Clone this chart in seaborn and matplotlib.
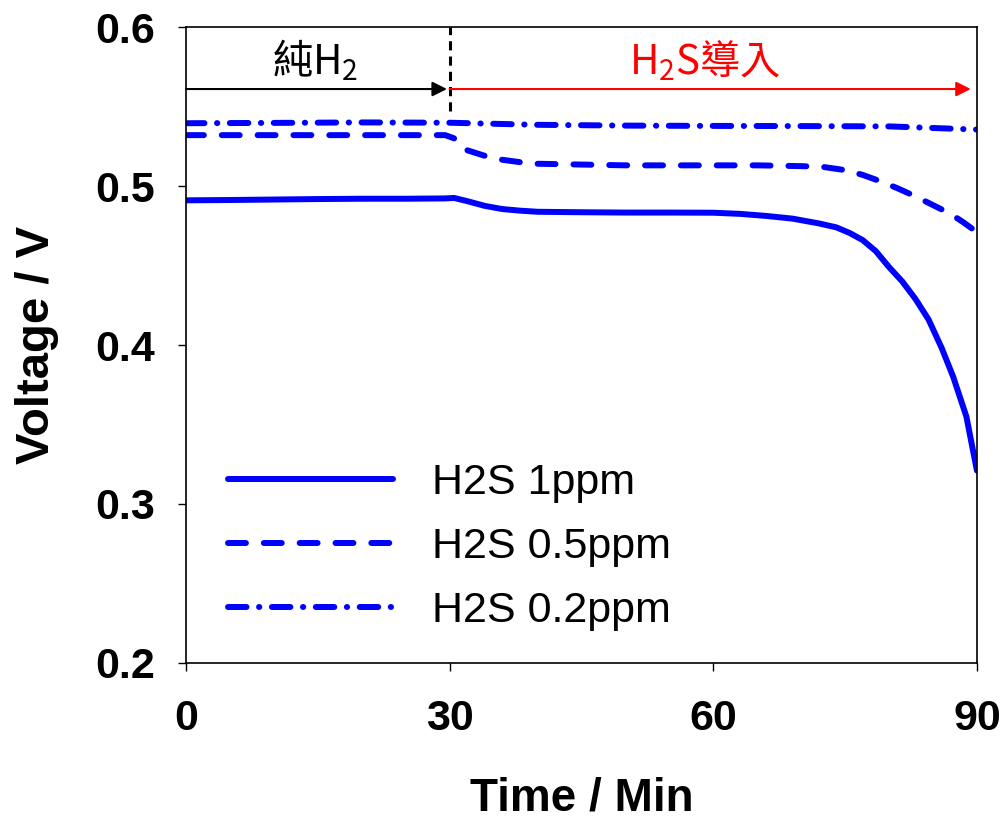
import numpy as np
import pandas as pd
import matplotlib
matplotlib.use("Agg")
import matplotlib.pyplot as plt
import seaborn as sns

# ---- data ----
t_1ppm = [0, 5, 10, 15, 20, 25, 29.5, 30.5, 32, 34, 36, 38, 40, 45, 50, 55, 60, 63, 66,
          69, 72, 74, 75.5, 77, 78.5, 80, 81.5, 83, 84.5, 86, 87.3, 88.8, 90]
v_1ppm = [0.491, 0.4912, 0.4915, 0.4918, 0.492, 0.492, 0.4922, 0.4925, 0.4905, 0.4875,
          0.4855, 0.4845, 0.4838, 0.4835, 0.4833, 0.4833, 0.4832, 0.4825, 0.4812,
          0.4795, 0.4765, 0.474, 0.4705, 0.466, 0.459, 0.449, 0.440, 0.429, 0.416,
          0.398, 0.380, 0.355, 0.321]

t_05ppm = [0, 10, 20, 29.5, 30.5, 32, 34, 36, 38, 40, 45, 50, 55, 60, 65, 70, 72.5,
           75, 77, 79, 81, 83, 85, 87, 88.5, 90]
v_05ppm = [0.532, 0.532, 0.532, 0.532, 0.530, 0.5225, 0.519, 0.5165, 0.515, 0.514,
           0.5135, 0.513, 0.513, 0.513, 0.513, 0.5125, 0.512, 0.510, 0.507, 0.503,
           0.4985, 0.4935, 0.488, 0.4825, 0.477, 0.471]

t_02ppm = [0, 10, 20, 30, 40, 50, 60, 70, 80, 85, 90]
v_02ppm = [0.5395, 0.5397, 0.540, 0.5398, 0.5385, 0.538, 0.5378, 0.5377, 0.5375,
           0.5365, 0.5355]

series_labels = ["H2S 1ppm", "H2S 0.5ppm", "H2S 0.2ppm"]
x_ticks = [0, 30, 60, 90]
y_ticks = [0.2, 0.3, 0.4, 0.5, 0.6]
switch_time = 30
arrow_level = 0.561

# ---- style ----
sns.set_theme(style="white")
plt.rcParams["font.family"] = ["Liberation Sans", "Noto Sans CJK TC", "DejaVu Sans"]
plt.rcParams["mathtext.fontset"] = "custom"
plt.rcParams["mathtext.rm"] = "Noto Sans CJK TC"
plt.rcParams["mathtext.it"] = "Noto Sans CJK TC"
plt.rcParams["mathtext.bf"] = "Noto Sans CJK TC:bold"
for k in ["text.color", "axes.labelcolor", "xtick.color", "ytick.color"]:
    plt.rcParams[k] = "black"

fig = plt.figure(figsize=(10.03, 8.19), dpi=100)
ax = fig.add_axes([0.1854, 0.1905, 0.974 - 0.1854, 0.967 - 0.1905])

blue = "#0000FF"
lw = 4.3
df1 = pd.DataFrame({"t": t_1ppm, "v": v_1ppm})
df2 = pd.DataFrame({"t": t_05ppm, "v": v_05ppm})
df3 = pd.DataFrame({"t": t_02ppm, "v": v_02ppm})

sns.lineplot(data=df1, x="t", y="v", ax=ax, color=blue, lw=lw, label=series_labels[0],
             sort=False, estimator=None, solid_capstyle="round")
sns.lineplot(data=df2, x="t", y="v", ax=ax, color=blue, lw=lw, label=series_labels[1],
             sort=False, estimator=None, linestyle=(0, (3, 3)), dash_capstyle="round")
sns.lineplot(data=df3, x="t", y="v", ax=ax, color=blue, lw=lw, label=series_labels[2],
             sort=False, estimator=None, linestyle=(0, (3.1, 2.1, 0.05, 2.1)),
             dash_capstyle="round")

# annotations: switch line and arrows
ax.plot([switch_time, switch_time], [0.547, 0.6], color="black", lw=2.2,
        linestyle=(0, (3, 2)))
ax.annotate("", xy=(switch_time - 0.3, arrow_level), xytext=(0, arrow_level),
            arrowprops=dict(arrowstyle="-|>", color="black", lw=1.5,
                            mutation_scale=22, shrinkA=0, shrinkB=0))
ax.annotate("", xy=(89.3, arrow_level), xytext=(switch_time, arrow_level),
            arrowprops=dict(arrowstyle="-|>", color="red", lw=1.5,
                            mutation_scale=22, shrinkA=0, shrinkB=0))
ax.text(14.7, 0.579, "$\\mathrm{純H_2}$", fontsize=29, ha="center", va="center",
        color="black")
ax.text(59.0, 0.579, "$\\mathrm{H_2S導入}$", fontsize=29, ha="center", va="center",
        color="red")

# axes
ax.set_xlim(0, 90)
ax.set_ylim(0.2, 0.6)
ax.set_xticks(x_ticks)
ax.set_yticks(y_ticks)
ax.set_xticklabels([str(v) for v in x_ticks], fontsize=31, fontweight="bold")
ax.set_yticklabels([f"{v:.1f}" for v in y_ticks], fontsize=31, fontweight="bold")
ax.tick_params(axis="both", direction="out", length=6, width=1, color="black",
               bottom=True, left=True, top=False, right=False)
ax.tick_params(axis="x", pad=20)
ax.tick_params(axis="y", pad=16)
for s in ax.spines.values():
    s.set_visible(True)
    s.set_color("black")
    s.set_linewidth(1.2)

ax.set_xlabel("Time / Min", fontsize=33, fontweight="bold", labelpad=27)
ax.set_ylabel("Voltage / V", fontsize=34, fontweight="bold", labelpad=26)

leg = ax.legend(loc="upper left", bbox_to_anchor=(0.053, 0.315), frameon=False,
                fontsize=31, handlelength=3.83, handletextpad=0.9, labelspacing=0.56,
                borderpad=0, borderaxespad=0)

fig.savefig("out.png", dpi=100)
